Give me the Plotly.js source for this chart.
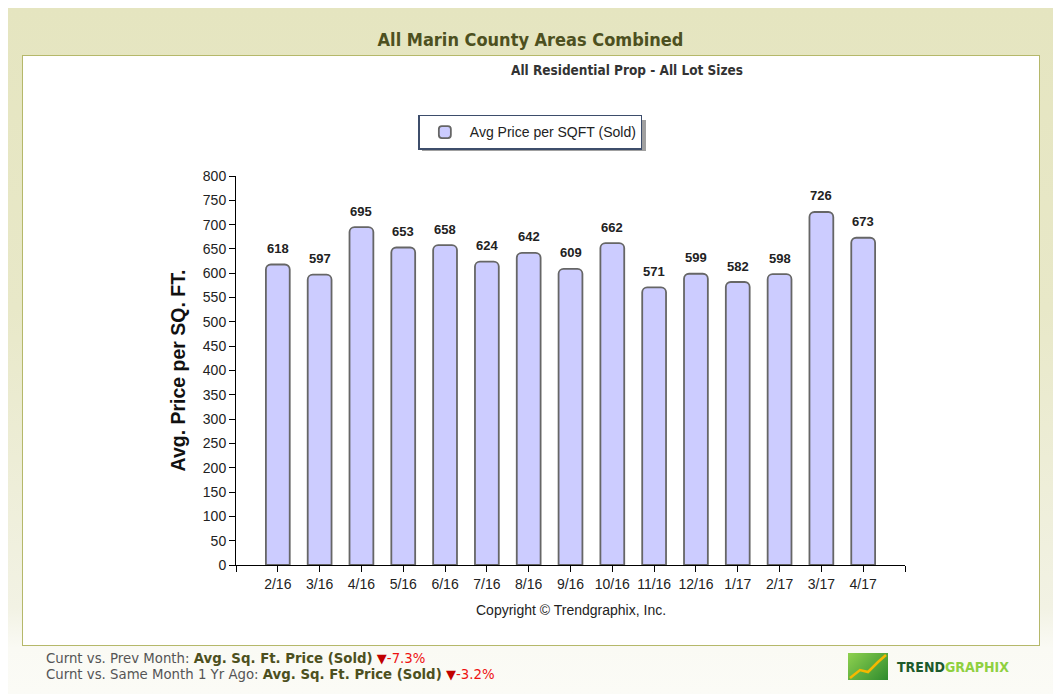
<!DOCTYPE html>
<html>
<head>
<meta charset="utf-8">
<script src="https://cdn.plot.ly/plotly-3.0.1.min.js"></script>
<style>
  body { margin: 0; background: #fff; width: 1058px; height: 699px; overflow: hidden; position: relative; font-family: "DejaVu Sans", Verdana, sans-serif; }
  #frame { position: absolute; left: 8px; top: 8px; width: 1045px; height: 686px;
           background: linear-gradient(#e5e5c0 0px, #e8e8c8 300px, #f2f2e4 600px, #fafaf4 640px, #fbfbf6 686px); }
  #panel { position: absolute; left: 22px; top: 55px; width: 1016px; height: 589px; background: #fff; border: 1px solid #b5b86a; }
  #head { position: absolute; left: 8px; width: 1045px; top: 29px; text-align: center;
          font-family: "DejaVu Sans Condensed", "DejaVu Sans", sans-serif; font-weight: bold; font-size: 18px; color: #4d5020; }
  #shadow { position: absolute; left: 422px; top: 120px; width: 224px; height: 31px; background: #a0a0a0; }
  #plot { position: absolute; left: 0; top: 0; width: 1058px; height: 699px; }
  .foot { position: absolute; left: 46px; font-size: 13.3px; color: #555; white-space: nowrap; }
  .foot b { color: #4d5020; }
  .foot .tri { color: #c00000; font-size: 13px; }
  .foot .pct { color: #ee1111; }
  #logo { position: absolute; left: 848px; top: 653px; width: 40px; height: 27px;
          background: linear-gradient(135deg, #8fd14f, #2e8b2e); }
  #logotext { position: absolute; left: 897px; top: 659px; font-family: "DejaVu Sans Condensed", "DejaVu Sans", sans-serif; font-weight: bold; font-size: 14px; }
</style>
</head>
<body>
<div id="frame"></div>
<div id="panel"></div>
<div id="head">All Marin County Areas Combined</div>
<div id="shadow"></div>
<div id="plot"></div>
<div class="foot" style="top:651px">Curnt vs. Prev Month: <b>Avg. Sq. Ft. Price (Sold)</b> <span class="tri">&#9660;</span><span class="pct">-7.3%</span></div>
<div class="foot" style="top:667px">Curnt vs. Same Month 1 Yr Ago: <b>Avg. Sq. Ft. Price (Sold)</b> <span class="tri">&#9660;</span><span class="pct">-3.2%</span></div>
<div id="logo"><svg width="40" height="27"><polyline points="2,25 12,17 20,19 30,9 38,2" fill="none" stroke="#f5b800" stroke-width="2.5"/></svg></div>
<div id="logotext"><span style="color:#1d5a2c">TREND</span><span style="color:#8fd040">GRAPHIX</span></div>
<script>
var months = ["2/16", "3/16", "4/16", "5/16", "6/16", "7/16", "8/16", "9/16", "10/16", "11/16", "12/16", "1/17", "2/17", "3/17", "4/17"];
var avgPrice = [618, 597, 695, 653, 658, 624, 642, 609, 662, 571, 599, 582, 598, 726, 673];
var positions = months.map(function (m, i) { return i; });

var trace = {
  x: positions,
  y: avgPrice,
  type: "bar",
  name: "Avg Price per SQFT (Sold)",
  width: 0.57,
  marker: { color: "#ccccff", line: { color: "#666", width: 1.8 }, cornerradius: 5 },
  hoverinfo: "x+y"
};

// value labels above each bar
var labels = avgPrice.map(function (v, i) {
  return {
    x: i, y: v, xref: "x", yref: "y", text: "<b>" + v + "</b>",
    showarrow: false, yshift: 16, yanchor: "middle",
    font: { size: 13, color: "#222" }
  };
});

labels.push({
  text: "Copyright \u00a9 Trendgraphix, Inc.",
  xref: "paper", yref: "paper", x: 0.5, y: -0.115, yanchor: "middle",
  showarrow: false, font: { size: 14, color: "#222" }
});

var layout = {
  width: 1058,
  height: 699,
  margin: { l: 236, r: 153, t: 176, b: 134 },
  paper_bgcolor: "rgba(0,0,0,0)",
  plot_bgcolor: "rgba(0,0,0,0)",
  font: { family: "Arial, Liberation Sans", color: "#222", size: 14 },
  title: {
    text: "<b>All Residential Prop - All Lot Sizes</b>",
    font: { family: "DejaVu Sans Condensed, DejaVu Sans", size: 13.5, color: "#333" },
    x: (627 - 236) / 669, xref: "paper", xanchor: "center",
    y: 1 - 70 / 699, yref: "container", yanchor: "middle"
  },
  showlegend: true,
  legend: {
    x: 0.44, xanchor: "center", y: 1.157, yanchor: "top",
    bgcolor: "#fff", bordercolor: "#3d4d6b", borderwidth: 1.5,
    itemwidth: 40,
    font: { size: 14, color: "#222" }
  },
  xaxis: {
    range: [-1, 15],
    tickvals: positions,
    ticktext: months,
    ticks: "outside", ticklen: 6, tickcolor: "#000",
    minor: { tickvals: [-1, 15], ticks: "outside", ticklen: 6, tickcolor: "#000" },
    showline: true, linecolor: "#000", linewidth: 1,
    showgrid: false, zeroline: false, fixedrange: true
  },
  yaxis: {
    range: [0, 800],
    dtick: 50,
    ticks: "outside", ticklen: 6, tickcolor: "#000",
    showline: true, linecolor: "#000", linewidth: 1,
    showgrid: false, zeroline: false,
    title: { text: "<b>Avg. Price per SQ. FT.</b>", font: { size: 19.5, color: "#111" }, standoff: 12 }
  },
  annotations: labels
};

Plotly.newPlot("plot", [trace], layout, { displayModeBar: false, staticPlot: true });
</script>
</body>
</html>
